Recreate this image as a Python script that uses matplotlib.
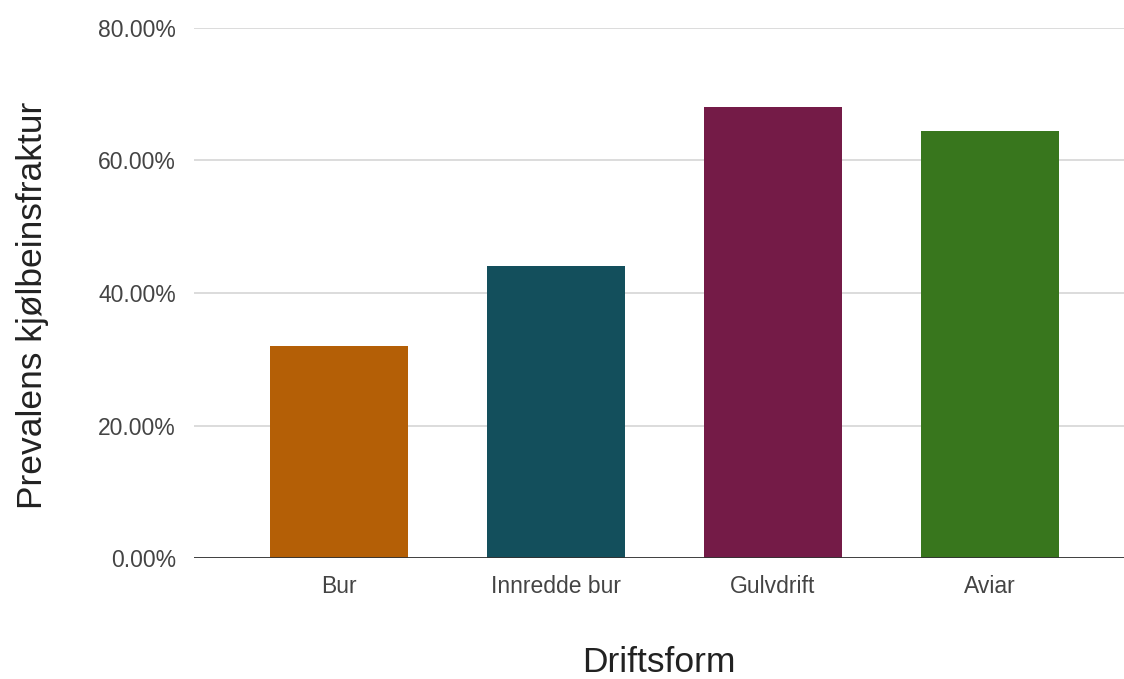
import numpy as np
import matplotlib.pyplot as plt

# Prevalens per driftsform
driftsform = ['Bur', 'Innredde bur', 'Gulvdrift', 'Aviar']
prevalens = [0.32, 0.44, 0.681, 0.645]
farger = ['#b45f06', '#134f5c', '#741b47', '#38761d']
yticks = [0.0, 0.2, 0.4, 0.6, 0.8]

plt.rcParams['font.family'] = ['Liberation Sans', 'DejaVu Sans']

fig = plt.figure(figsize=(11.24, 6.79), dpi=100)
ax = fig.add_axes([0.1726, 0.178, 0.8274, 0.781])

x = np.arange(len(driftsform))
ax.bar(x, prevalens, width=0.637, color=farger, zorder=3)

ax.set_xlim(-0.67, 3.62)
ax.set_ylim(0, 0.8)
ax.set_yticks(yticks)
ax.set_yticklabels(['%.2f%%' % (v * 100) for v in yticks])
ax.set_xticks(x)
ax.set_xticklabels(driftsform)

ax.grid(axis='y', color='#d9d9d9', linewidth=1.3, zorder=0)
ax.axhline(0, color='#333333', linewidth=1.3, zorder=4)
for s in ax.spines.values():
    s.set_visible(False)
ax.tick_params(length=0, labelsize=16.5, labelcolor='#444444')
ax.tick_params(axis='y', pad=13)
ax.tick_params(axis='x', pad=12)

ax.set_xlabel('Driftsform', fontsize=25.5, color='#222222', labelpad=35)
ax.set_ylabel('Prevalens kjølbeinsfraktur', fontsize=25.5, color='#222222', labelpad=35)
ax.yaxis.label.set_y(0.477)

fig.savefig('out.png', dpi=100)
